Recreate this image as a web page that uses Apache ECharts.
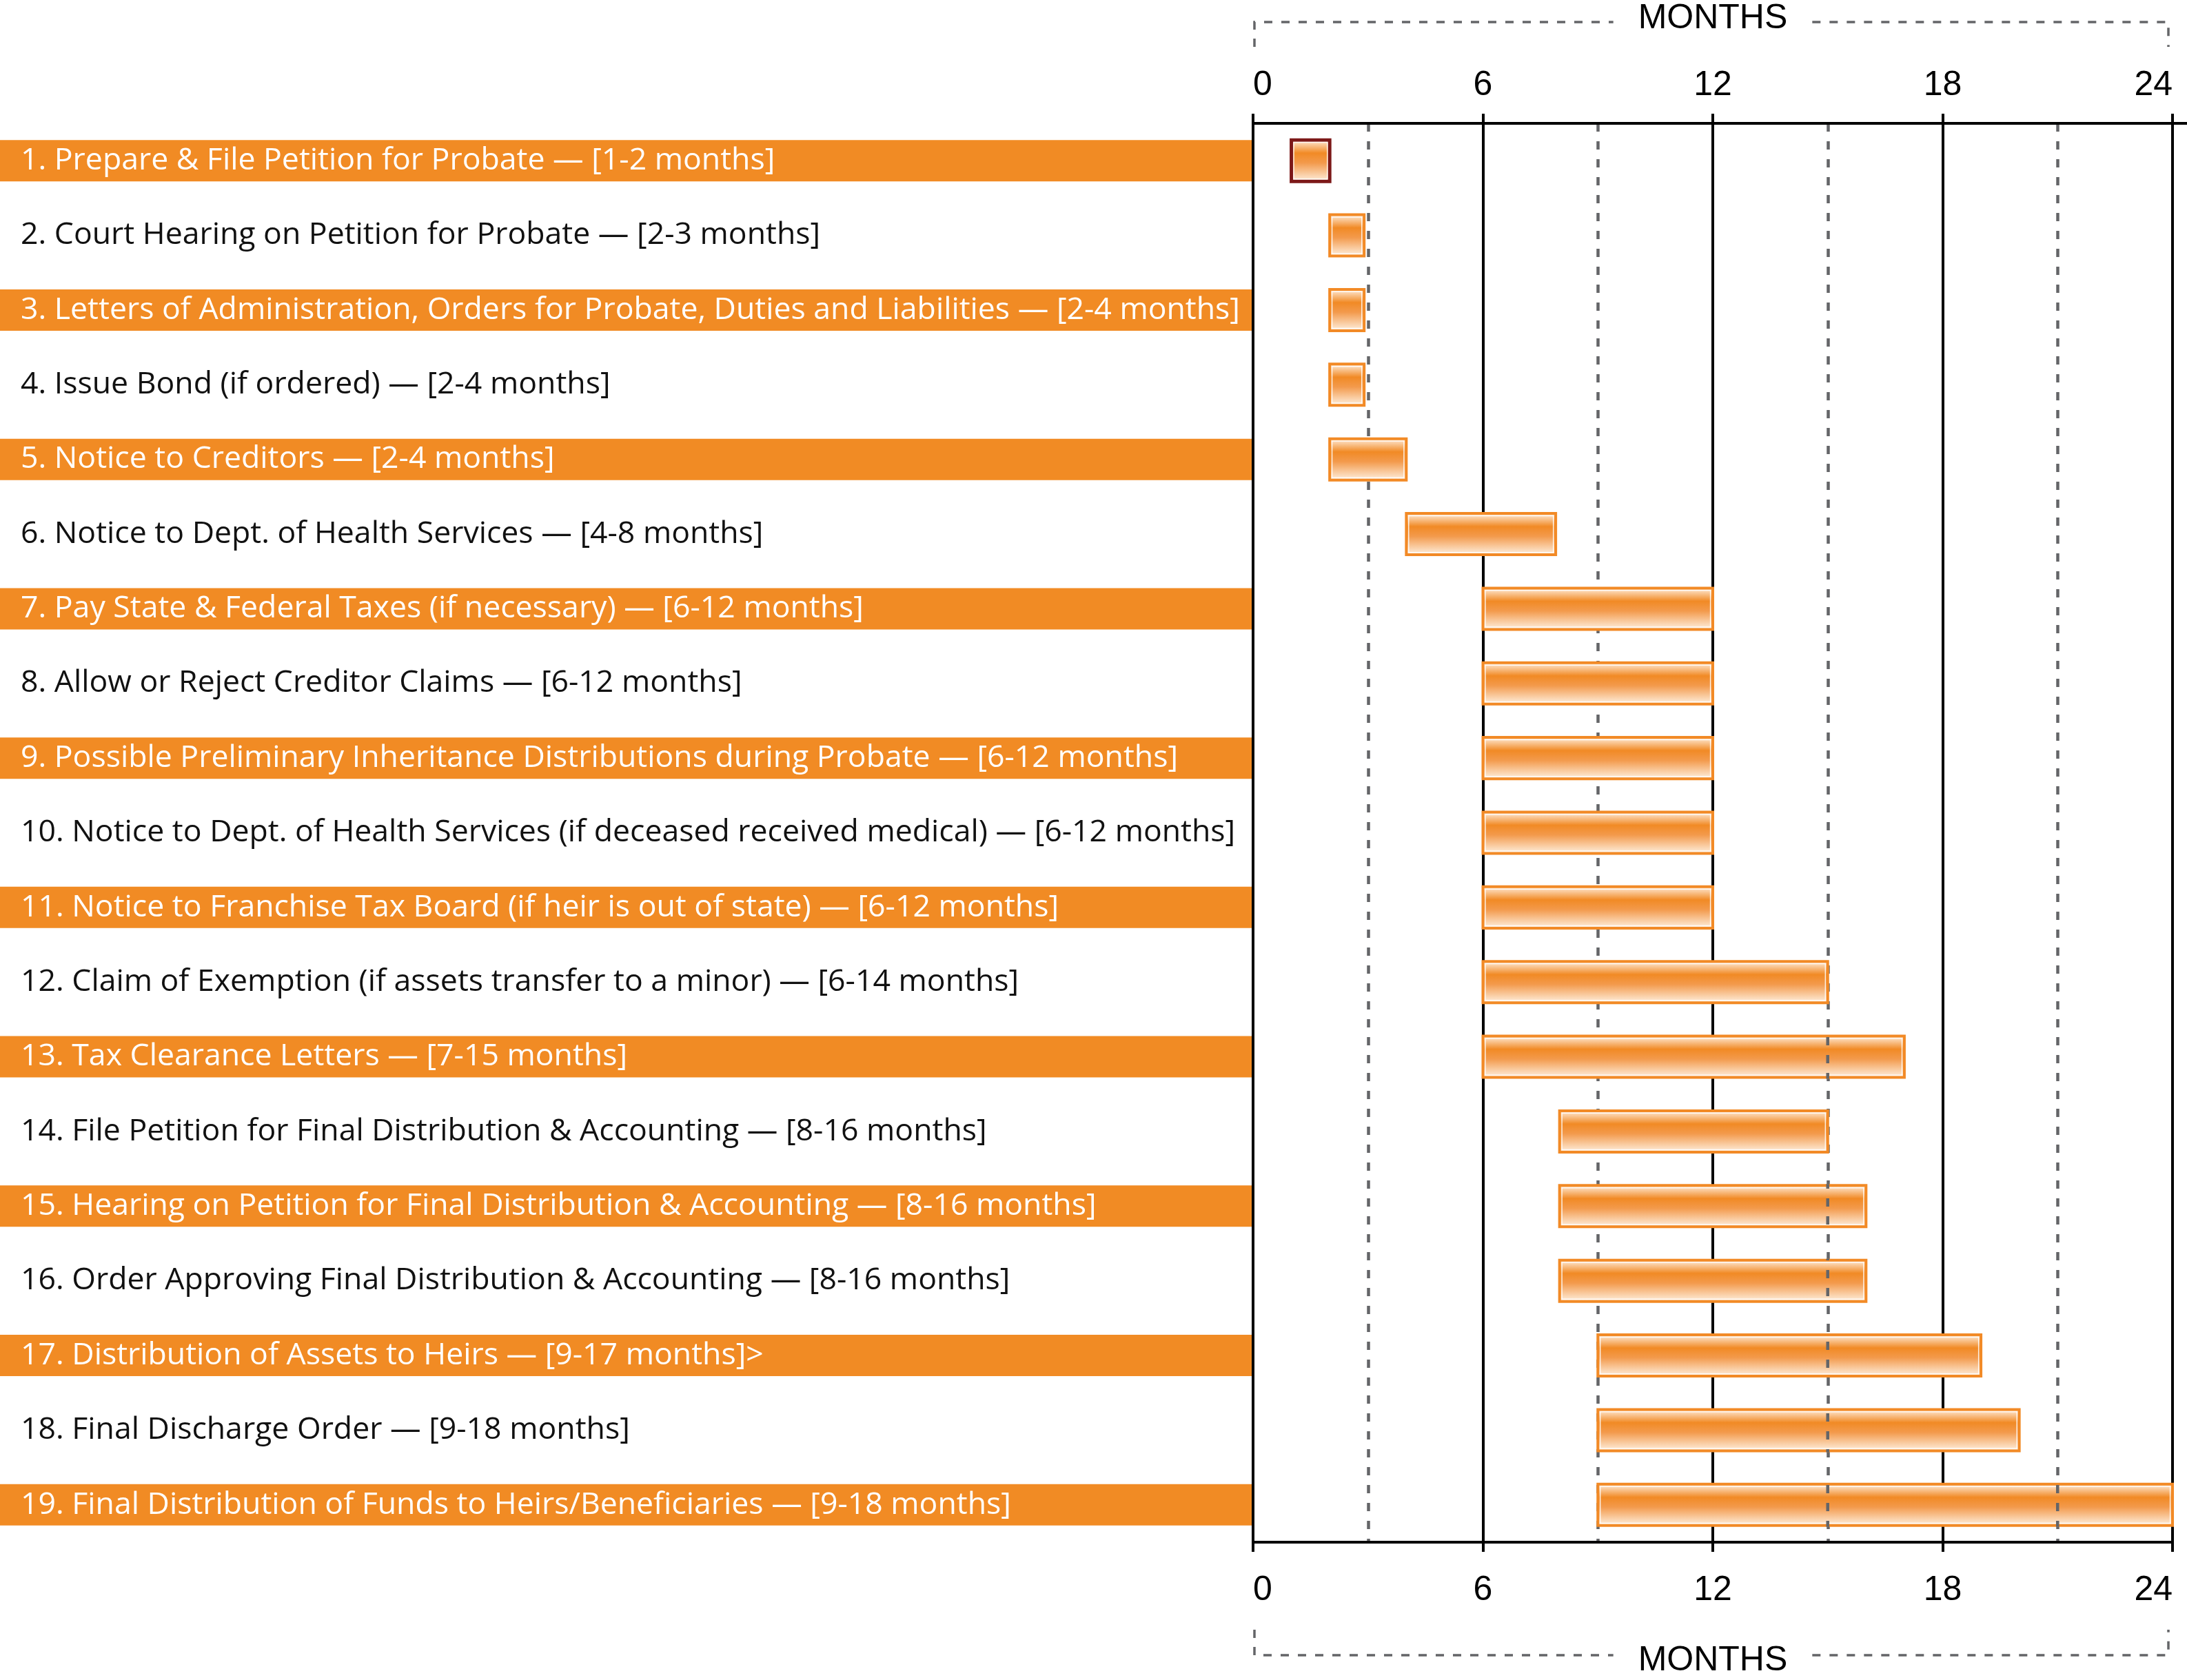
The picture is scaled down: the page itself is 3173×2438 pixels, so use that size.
<!DOCTYPE html>
<html>
<head>
<meta charset="utf-8">
<script src="https://cdn.jsdelivr.net/npm/echarts@6/dist/echarts.min.js"></script>
<style>
html, body { margin: 0; padding: 0; background: #ffffff; }
#chart { width: 3173px; height: 2438px; }
</style>
</head>
<body>
<div id="chart"></div>
<script>
// ---------------- data ----------------
const tasks = [
  '1. Prepare & File Petition for Probate \u2014 [1-2 months]',
  '2. Court Hearing on Petition for Probate \u2014 [2-3 months]',
  '3. Letters of Administration, Orders for Probate, Duties and Liabilities \u2014 [2-4 months]',
  '4. Issue Bond (if ordered) \u2014 [2-4 months]',
  '5. Notice to Creditors \u2014 [2-4 months]',
  '6. Notice to Dept. of Health Services \u2014 [4-8 months]',
  '7. Pay State & Federal Taxes (if necessary) \u2014 [6-12 months]',
  '8. Allow or Reject Creditor Claims \u2014 [6-12 months]',
  '9. Possible Preliminary Inheritance Distributions during Probate \u2014 [6-12 months]',
  '10. Notice to Dept. of Health Services (if deceased received medical) \u2014 [6-12 months]',
  '11. Notice to Franchise Tax Board (if heir is out of state) \u2014 [6-12 months]',
  '12. Claim of Exemption (if assets transfer to a minor) \u2014 [6-14 months]',
  '13. Tax Clearance Letters \u2014 [7-15 months]',
  '14. File Petition for Final Distribution & Accounting \u2014 [8-16 months]',
  '15. Hearing on Petition for Final Distribution & Accounting \u2014 [8-16 months]',
  '16. Order Approving Final Distribution & Accounting \u2014 [8-16 months]',
  '17. Distribution of Assets to Heirs \u2014 [9-17 months]>',
  '18. Final Discharge Order \u2014 [9-18 months]',
  '19. Final Distribution of Funds to Heirs/Beneficiaries \u2014 [9-18 months]'
];
const startMonths = [1, 2, 2, 2, 2, 4, 6, 6, 6, 6, 6, 6, 6, 8, 8, 8, 9, 9, 9];
const endMonths   = [2, 2.9, 2.9, 2.9, 4, 7.9, 12, 12, 12, 12, 12, 15, 17, 15, 16, 16, 19, 20, 24];
const axisMin = 0;
const axisMax = 24;
const axisStep = 6;
const axisName = 'MONTHS';
const overlayDashedMonths = [15, 21];

// ---------------- styles ----------------
const ORANGE = '#f18b24';
const BAR_BORDER = '#f28a26';
const HIGHLIGHT_BORDER = '#7c1818';
const HIGHLIGHT_ROW = 0;
const DASH_GRAY = '#646568';
const DASH = [12, 14];
const labelFont = '"Open Sans", "Noto Sans", "DejaVu Sans", sans-serif';
const axisFont = '"Liberation Sans", Arial, Helvetica, sans-serif';
const axisFontSize = 50;
const labelSize = 44.6;

const measureCtx = document.createElement('canvas').getContext('2d');
function textWidth(text, size, family) {
  measureCtx.font = size + 'px ' + family;
  return measureCtx.measureText(text).width;
}

const GRID_LEFT = 1818, GRID_RIGHT = 21, GRID_TOP = 179, GRID_BOTTOM = 200;
const BAND_PAD = 30;
const BAND_WIDTH = GRID_LEFT - 2 - BAND_PAD;

const barGradient = new echarts.graphic.LinearGradient(0, 0, 0, 1, [
  { offset: 0, color: '#fef0e2' },
  { offset: 0.12, color: '#fbd0a6' },
  { offset: 0.33, color: '#f18a25' },
  { offset: 0.55, color: '#f39a4c' },
  { offset: 0.85, color: '#fbd8b6' },
  { offset: 1, color: '#fff4e8' }
]);

const chart = echarts.init(document.getElementById('chart'), null, { renderer: 'canvas' });

const barData = tasks.map((t, i) => [i, startMonths[i], endMonths[i]]);

function commonAxis(position) {
  const top = position === 'top';
  return {
    type: 'value',
    position: position,
    min: axisMin,
    max: axisMax,
    interval: axisStep,
    name: axisName,
    nameLocation: 'middle',
    nameGap: top ? 127 : 147,
    nameTextStyle: { fontFamily: axisFont, fontSize: axisFontSize, color: '#000' },
    axisLine: { show: true, onZero: false, lineStyle: { color: '#000', width: 4 } },
    axisTick: { show: true, inside: false, length: 14, lineStyle: { color: '#000', width: 4 } },
    axisLabel: {
      show: true,
      margin: top ? 30 : 45,
      fontFamily: axisFont,
      fontSize: axisFontSize,
      color: '#000',
      alignMinLabel: 'left',
      alignMaxLabel: 'right'
    },
    minorTick: { show: false, splitNumber: 2 },
    splitLine: { show: top, lineStyle: { color: '#000', width: 4 } },
    minorSplitLine: { show: top, lineStyle: { color: DASH_GRAY, width: 4.5, type: DASH } }
  };
}

const option = {
  backgroundColor: '#ffffff',
  animation: false,
  grid: {
    left: GRID_LEFT, right: GRID_RIGHT, top: GRID_TOP, bottom: GRID_BOTTOM,
    containLabel: false, outerBoundsMode: 'none'
  },
  xAxis: [commonAxis('top'), commonAxis('bottom')],
  yAxis: {
    type: 'category',
    data: tasks,
    inverse: true,
    axisLine: { show: false },
    axisTick: { show: false },
    splitLine: { show: false },
    axisLabel: {
      interval: 0,
      margin: 2,
      formatter: (v, i) => (i % 2 === 0 ? '{o|' : '{e|') + v + '}',
      rich: {
        o: {
          color: '#ffffff', backgroundColor: ORANGE,
          width: BAND_WIDTH, height: 60, lineHeight: 60,
          padding: [0, 0, 0, BAND_PAD], align: 'left', verticalAlign: 'middle',
          fontSize: labelSize, fontFamily: labelFont
        },
        e: {
          color: '#111111',
          width: BAND_WIDTH, height: 60, lineHeight: 60,
          padding: [0, 0, 0, BAND_PAD], align: 'left', verticalAlign: 'middle',
          fontSize: labelSize, fontFamily: labelFont
        }
      }
    }
  },
  series: [{
    type: 'custom',
    xAxisIndex: 0,
    yAxisIndex: 0,
    clip: false,
    encode: { x: [1, 2], y: 0 },
    data: barData,
    renderItem: function (params, api) {
      const row = api.value(0);
      const s = api.value(1), e = api.value(2);
      const p0 = api.coord([s, row]);
      const p1 = api.coord([e, row]);
      const h = api.size([0, 1])[1] * 0.554;
      const x = p0[0], w = p1[0] - p0[0], y = p0[1] - h / 2;
      const isHi = params.dataIndex === HIGHLIGHT_ROW;
      const border = isHi ? HIGHLIGHT_BORDER : BAR_BORDER;
      const children = [
        { type: 'rect', shape: { x: x, y: y, width: w, height: h },
          style: { fill: barGradient, stroke: border, lineWidth: isHi ? 5 : 4 } },
        { type: 'rect', shape: { x: x + 3.4, y: y + 3.4, width: w - 6.8, height: h - 6.8 },
          style: { fill: 'none', stroke: 'rgba(255,255,255,0.85)', lineWidth: 1.5 } }
      ];
      const area = params.coordSys;
      overlayDashedMonths.forEach(function (m) {
        if (m > s && m < e) {
          const px = api.coord([m, row])[0];
          children.push({
            type: 'line',
            shape: { x1: px, y1: y - 2, x2: px, y2: y + h + 2 },
            style: { stroke: DASH_GRAY, lineWidth: 4.5, lineDash: DASH, lineDashOffset: (y - 2) - area.y }
          });
        }
      });
      return { type: 'group', children: children };
    }
  }]
};

chart.setOption(option);

// dashed brackets around the axis titles
const x0 = chart.convertToPixel({ xAxisIndex: 0 }, axisMin);
const x1 = chart.convertToPixel({ xAxisIndex: 0 }, axisMax);
const mid = (x0 + x1) / 2;
const gapHalf = textWidth(axisName, axisFontSize, axisFont) / 2 + 36;
const bracketStyle = { stroke: DASH_GRAY, lineWidth: 3.5, lineDash: [12, 13], fill: null };
const topY = 32, topEnd = 68, botY = 2402, botEnd = 2365;
const bl = x0 + 2, br = x1 - 6;
chart.setOption({
  graphic: [
    { type: 'polyline', silent: true, shape: { points: [[bl, topEnd], [bl, topY], [mid - gapHalf, topY]] }, style: bracketStyle },
    { type: 'polyline', silent: true, shape: { points: [[mid + gapHalf, topY], [br, topY], [br, topEnd]] }, style: bracketStyle },
    { type: 'polyline', silent: true, shape: { points: [[bl, botEnd], [bl, botY], [mid - gapHalf, botY]] }, style: bracketStyle },
    { type: 'polyline', silent: true, shape: { points: [[mid + gapHalf, botY], [br, botY], [br, botEnd]] }, style: bracketStyle },
    { type: 'line', silent: true, shape: { x1: x1, y1: GRID_TOP, x2: 3173, y2: GRID_TOP }, style: { stroke: '#000', lineWidth: 4 } }
  ]
});
</script>
</body>
</html>
